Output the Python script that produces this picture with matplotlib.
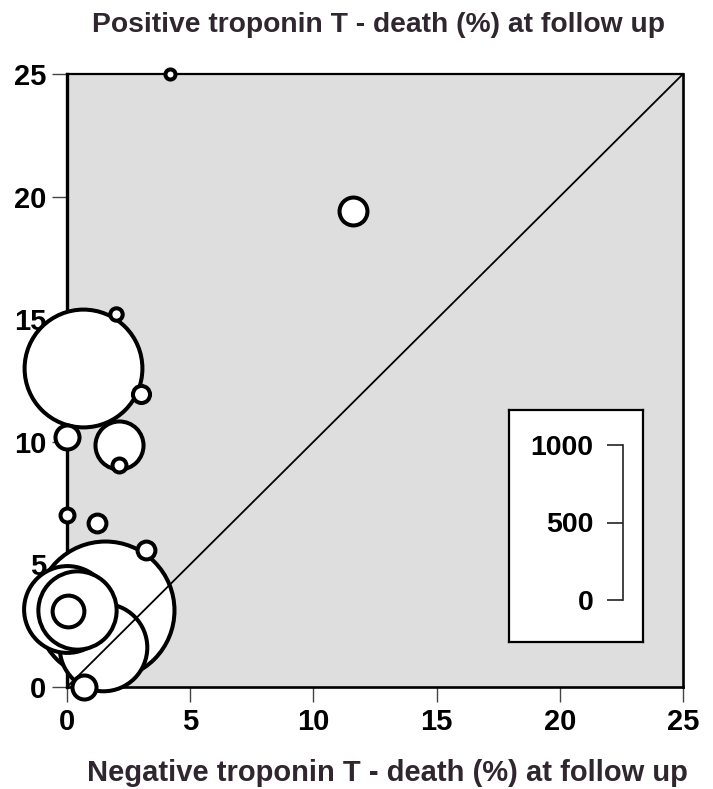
import matplotlib
matplotlib.use("Agg")
import matplotlib.pyplot as plt
import numpy as np

plt.rcParams['font.family'] = ['Liberation Sans', 'DejaVu Sans']
plt.rcParams['font.weight'] = 'bold'

# Study data (death % at follow-up)
neg_tnt = [4.2, 11.6, 0.65, 2.0, 3.0, 0.0, 2.1, 2.1, 0.0, 1.2, 3.2, 1.55, 0.0, 0.4, 0.05, 1.45, 0.7]
pos_tnt = [25.0, 19.4, 13.0, 15.2, 11.95, 10.2, 9.85, 9.05, 7.0, 6.7, 5.6, 3.15, 3.2, 3.15, 3.1, 1.63, 0.0]
sample_size = [65, 180, 760, 80, 110, 155, 310, 90, 90, 115, 115, 890, 560, 505, 205, 565, 155]

axis_ticks = [0, 5, 10, 15, 20, 25]
scale_ticks = [0, 500, 1000]

title_color = '#30262f'

W, H = 713, 789
fig = plt.figure(figsize=(W / 100, H / 100), dpi=100)
ax = fig.add_axes([67 / W, 1 - 687 / H, (683 - 67) / W, (687 - 74) / H])
ax.set_facecolor('#dedede')
ax.set_xlim(0, 25)
ax.set_ylim(0, 25)
ax.set_xticks(axis_ticks)
ax.set_yticks(axis_ticks)
ax.tick_params(axis='both', direction='out', length=10.5, width=1.0, color='#444444',
               labelsize=21, pad=4.5)
for lab in ax.get_xticklabels() + ax.get_yticklabels():
    lab.set_fontweight('bold')
for side, lw in [('left', 2.4), ('bottom', 1.9), ('top', 1.6), ('right', 1.9)]:
    ax.spines[side].set_linewidth(lw)
    ax.spines[side].set_color('black')

# diagonal line of identity
ax.plot([0, 25], [0, 25], color='black', lw=1.3, zorder=6, clip_on=False)

# bubbles (largest drawn first)
px_per_patient = 0.155
order = np.argsort(sample_size)[::-1]
for i in order:
    d_pt = sample_size[i] * px_per_patient * 0.72
    ax.scatter(neg_tnt[i], pos_tnt[i], s=d_pt ** 2, facecolor='white', edgecolor='black',
               linewidth=2.9, zorder=5, clip_on=False)

fig.text(379 / W, 1 - 25 / H, 'Positive troponin T - death (%) at follow up',
         ha='center', va='center', fontsize=20.3, fontweight='bold', color=title_color)
fig.text(387 / W, 1 - 773 / H, 'Negative troponin T - death (%) at follow up',
         ha='center', va='center', fontsize=21, fontweight='bold', color=title_color)

# size legend box
lax = fig.add_axes([509 / W, 1 - 642 / H, (643 - 509) / W, (642 - 410) / H])
lax.set_facecolor('white')
lax.set_xticks([])
lax.set_yticks([])
for s in lax.spines.values():
    s.set_linewidth(1.6)
    s.set_color('black')
lax.set_zorder(7)

sax = fig.add_axes([623 / W, 1 - 600 / H, 0.0001, (600 - 445) / H])
sax.set_ylim(0, 1000)
sax.set_yticks(scale_ticks)
sax.set_xticks([])
sax.patch.set_alpha(0)
for side in ['right', 'top', 'bottom']:
    sax.spines[side].set_visible(False)
sax.spines['left'].set_linewidth(1.2)
sax.spines['left'].set_color('#222222')
sax.tick_params(axis='y', direction='out', length=11.5, width=1.2, color='#222222',
                labelsize=20.5, pad=10)
for lab in sax.get_yticklabels():
    lab.set_fontweight('bold')
sax.set_zorder(8)

fig.savefig('out.png', dpi=100)
